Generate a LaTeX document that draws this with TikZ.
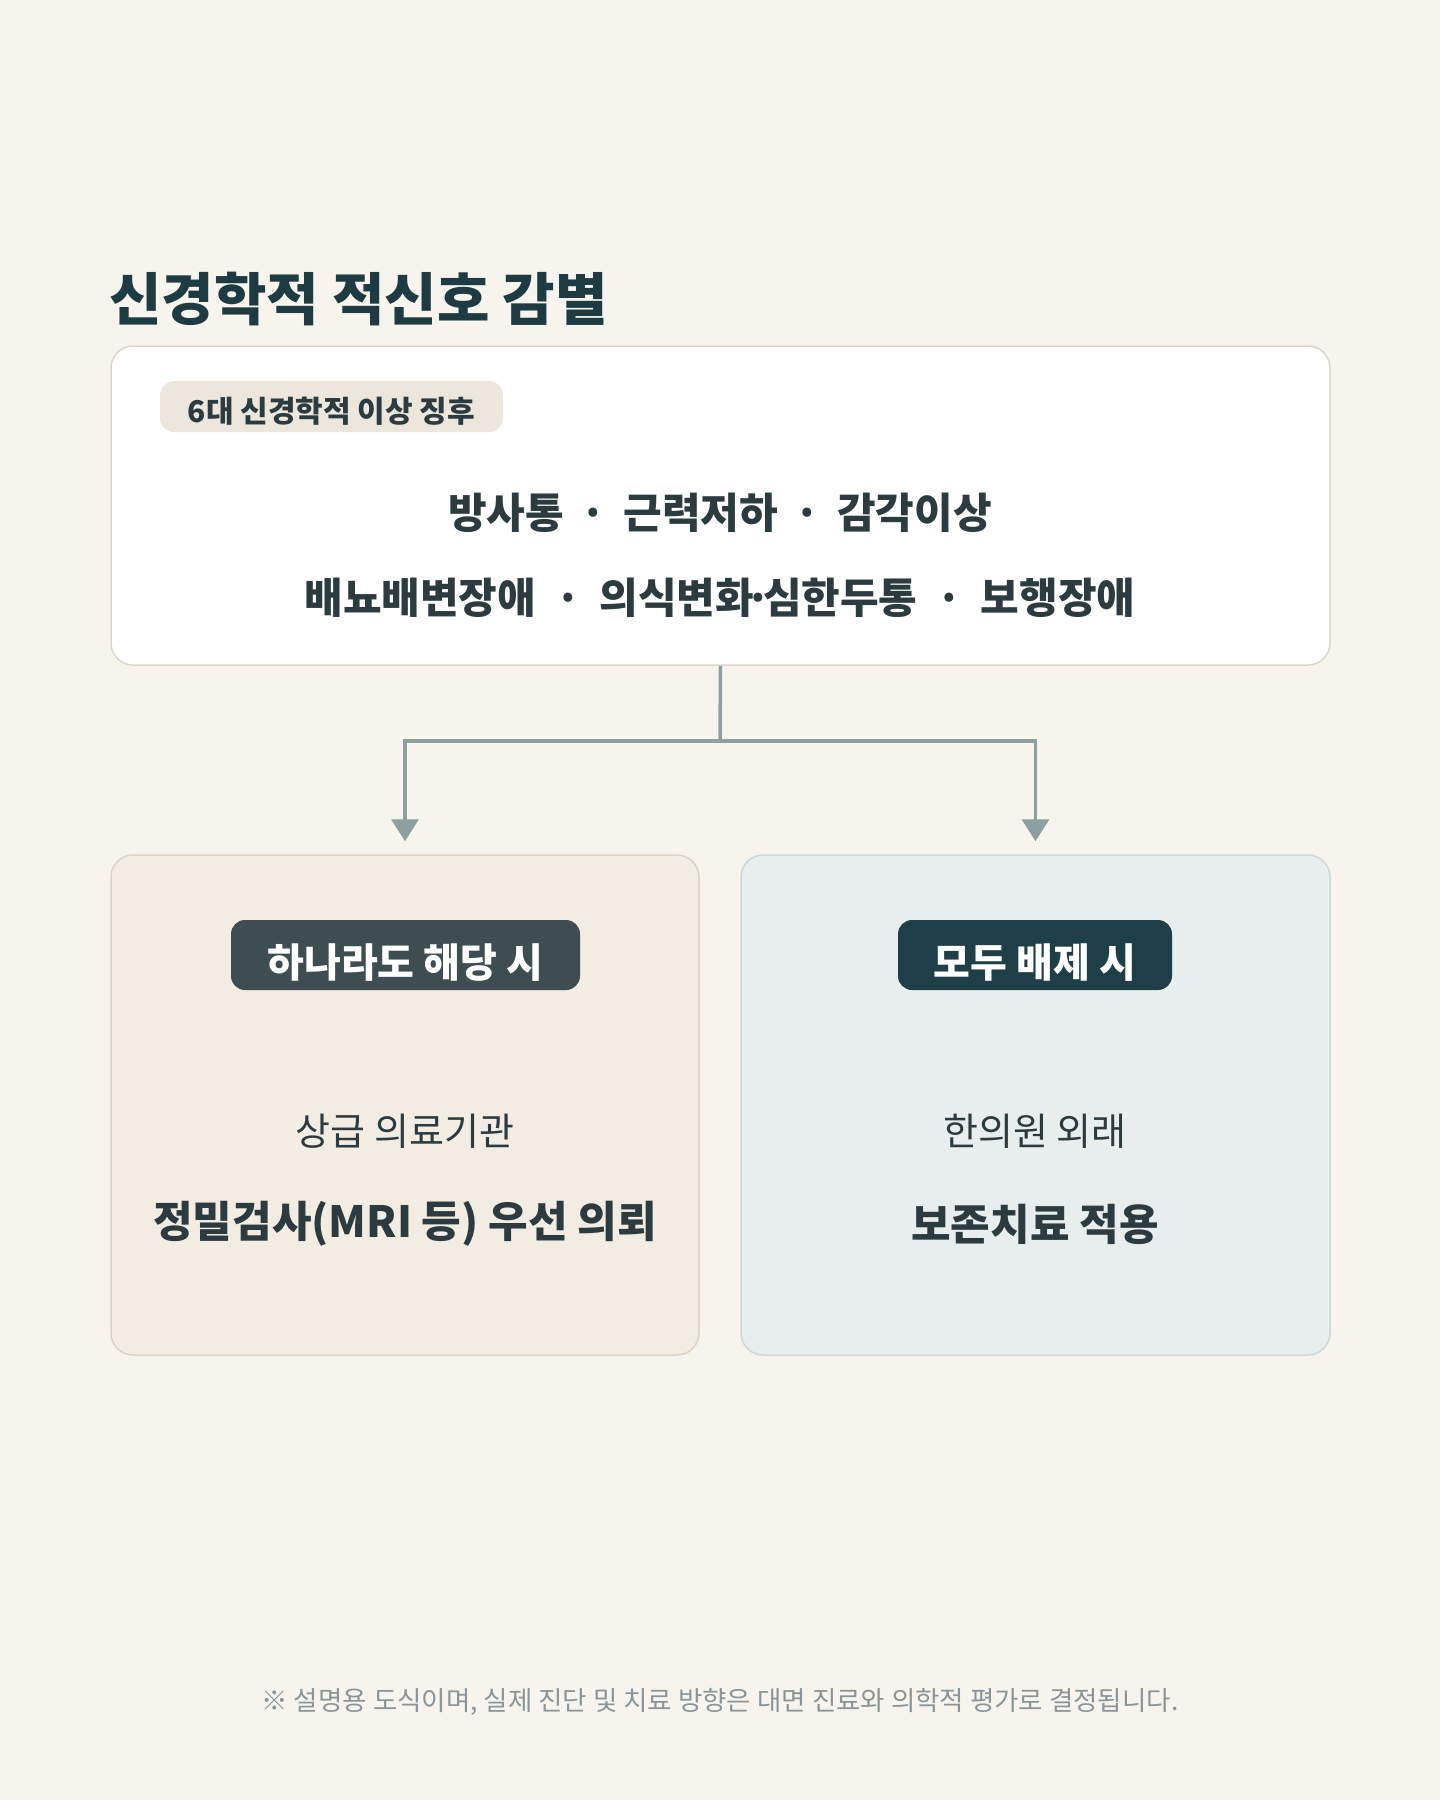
\documentclass[tikz,border=0pt]{standalone}
\usepackage{fontspec}
\setmainfont{Noto Sans CJK KR}
\usetikzlibrary{arrows.meta,positioning}

\definecolor{bgPaper}{HTML}{F7F4EE}
\definecolor{inkDark}{HTML}{1E3A42}
\definecolor{inkText}{HTML}{2C3B40}
\definecolor{cardLine}{HTML}{DDD6CB}
\definecolor{tagFill}{HTML}{ECE6DC}
\definecolor{linkGray}{HTML}{8E9FA0}
\definecolor{warmFill}{HTML}{F3ECE3}
\definecolor{warmLine}{HTML}{DCD3C6}
\definecolor{coolFill}{HTML}{E8EEEE}
\definecolor{coolLine}{HTML}{CDD8D9}
\definecolor{badgeWarm}{HTML}{3D4D52}
\definecolor{badgeCool}{HTML}{1F3F48}
\definecolor{noteGray}{HTML}{8A9599}

\newcommand*{\sep}{\hspace{0.4em}·\hspace{0.4em}}
\newcommand*{\sepWide}{\hspace{0.45em}·\hspace{0.45em}}
\newcommand*{\tightDot}{\kern-0.2em·\kern-0.2em}
\newcommand*{\fs}[1]{\fontsize{#1pt}{#1pt}\selectfont}

\begin{document}
\begin{tikzpicture}[x=1pt,y=-1pt,
    card/.style={draw, line width=1.5pt, rounded corners=22pt, inner sep=0pt},
    badge/.style={rounded corners=14pt, inner sep=0pt},
    badgeText/.style={text=white, font=\fs{40}\bfseries, yshift=-8pt},
    link/.style={draw=linkGray, line width=3.5pt},
    every node/.style={text=inkText}]
    \fill [bgPaper] (0,0) rectangle (1440,1800);
    \useasboundingbox (0,0) rectangle (1440,1800);

    % title
    \node [anchor=west, text=inkDark, font=\fs{57}\bfseries] (title) at (106,299) {신경학적 적신호 감별};

    % signs card
    \node [card, draw=cardLine, fill=white, minimum width=1219pt, minimum height=319pt] (signs) at (720.5,505.5) {};
    \node [fill=tagFill, rounded corners=14pt, minimum width=343pt, minimum height=51pt, inner sep=0pt] (tag) at (331.5,406.5) {};
    \node [font=\fs{30}\bfseries, yshift=-5pt] (tagText) at (tag) {6대 신경학적 이상 징후};
    \node [font=\fs{42}\bfseries] (rowA) at (720,513) {방사통\sep 근력저하\sep 감각이상};
    \node [font=\fs{42}\bfseries] (rowB) at (720,598) {배뇨배변장애\sepWide 의식변화\tightDot 심한두통\sepWide 보행장애};

    % outcome cards
    \node [card, draw=warmLine, fill=warmFill, minimum width=588pt, minimum height=500pt] (refer) at (405,1105) {};
    \node [card, draw=coolLine, fill=coolFill, minimum width=589pt, minimum height=500pt] (keep) at (1035.5,1105) {};

    \node [badge, fill=badgeWarm, minimum width=349pt, minimum height=70pt] (anyBadge) at (405.5,955) {};
    \node [badgeText] at (anyBadge) {하나라도 해당 시};
    \node [badge, fill=badgeCool, minimum width=274pt, minimum height=70pt] (noneBadge) at (1035,955) {};
    \node [badgeText] at (noneBadge) {모두 배제 시};

    \node [font=\fs{38}] (referWhere) at (405,1131) {상급 의료기관};
    \node [font=\fs{43}\bfseries] (referWhat) at (405,1224) {정밀검사(MRI 등) 우선 의뢰};
    \node [font=\fs{38}] (keepWhere) at (1035,1131) {한의원 외래};
    \node [font=\fs{43}\bfseries] (keepWhat) at (1035,1224) {보존치료 적용};

    % connectors
    \coordinate (split) at (720,741);
    \draw [link] (signs.south) -- (split);
    \draw [link, -{Triangle[width=27pt,length=22pt]}] (split) -| ([yshift=13pt]refer.north);
    \draw [link, -{Triangle[width=27pt,length=22pt]}] (split) -| ([yshift=13pt]keep.north);

    % footnote
    \node [text=noteGray, font=\fs{26.5}] (note) at (720,1702) {※ 설명용 도식이며, 실제 진단 및 치료 방향은 대면 진료와 의학적 평가로 결정됩니다.};
\end{tikzpicture}
\end{document}
